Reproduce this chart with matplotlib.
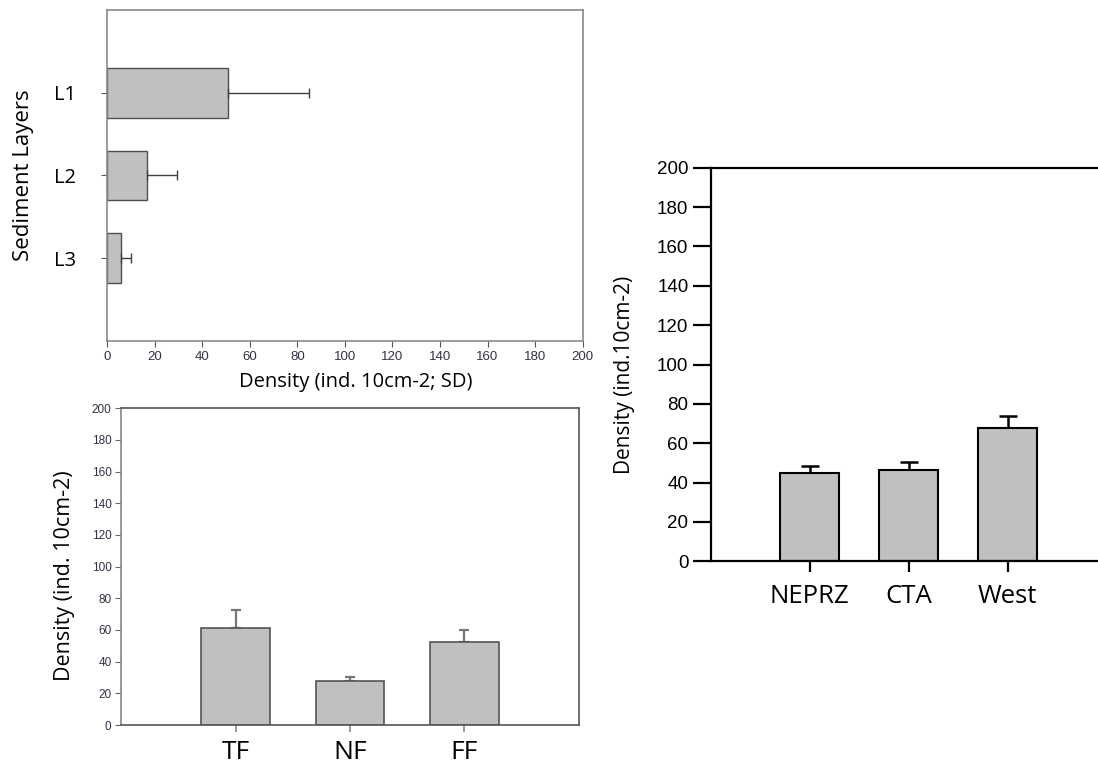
import matplotlib
matplotlib.use("Agg")
import matplotlib.pyplot as plt
import numpy as np

# ---- data ----
layers = ["L1", "L2", "L3"]
layer_density = [51, 17, 6]
layer_sd = [34, 12.5, 4]

zones = ["TF", "NF", "FF"]
zone_density = [61.5, 27.8, 52.7]
zone_sd = [11, 2.5, 7.2]

regions = ["NEPRZ", "CTA", "West"]
region_density = [45, 46.3, 67.5]
region_sd = [3.6, 4.4, 6.1]

ticks_200 = [0, 20, 40, 60, 80, 100, 120, 140, 160, 180, 200]

W, H = 1098, 767
fig = plt.figure(figsize=(W / 100, H / 100), dpi=100)
fig.patch.set_facecolor("white")

BAR = "#c0c0c0"
TXT = "Open Sans"

def frac(l, t, r, b):
    return [l / W, (H - b) / H, (r - l) / W, (b - t) / H]

# ---- panel 1: horizontal bars ----
ax1 = fig.add_axes(frac(107, 10, 582.7, 341))
pos1 = np.arange(1, len(layers) + 1)
ax1.barh(pos1, layer_density, height=0.6, color=BAR, edgecolor="#505050", linewidth=1.0, zorder=2)
ax1.errorbar(layer_density, pos1, xerr=[np.zeros(len(layers)), layer_sd], fmt="none",
             ecolor="#404040", elinewidth=1.0, capsize=3.5, capthick=1.0, zorder=3)
ax1.set_ylim(4, 0)
ax1.set_xlim(0, 200)
ax1.set_yticks(pos1)
ax1.set_yticklabels(layers, fontsize=14.5, family=TXT)
ax1.set_xticks(ticks_200)
ax1.set_xticklabels([str(t) for t in ticks_200], fontsize=9.5, family="Liberation Sans", color="#333344")
for s in ax1.spines.values():
    s.set_color("#8a8a8a")
    s.set_linewidth(1.2)
ax1.tick_params(axis="y", length=4, color="#555555", pad=18.5)
ax1.tick_params(axis="x", length=4, color="#555555", pad=3)
ax1.set_xlabel("Density (ind. 10cm-2; SD)", fontsize=14.5, family=TXT, labelpad=7)
ax1.xaxis.label.set_x(0.523)
ax1.set_ylabel("Sediment Layers", fontsize=16, family=TXT, labelpad=14)

# ---- panel 2: vertical bars ----
ax2 = fig.add_axes(frac(121.3, 408.3, 578.7, 725))
pos2 = np.arange(1, len(zones) + 1)
ax2.bar(pos2, zone_density, width=0.6, color=BAR, edgecolor="#555555", linewidth=1.2, zorder=2)
ax2.errorbar(pos2, zone_density, yerr=[np.zeros(len(zones)), zone_sd], fmt="none",
             ecolor="#777777", elinewidth=1.6, capsize=3.5, capthick=1.6, zorder=1)
ax2.set_xlim(0, 4)
ax2.set_ylim(0, 200)
ax2.set_xticks(pos2)
ax2.set_xticklabels(zones, fontsize=19, family=TXT)
ax2.set_yticks(ticks_200)
ax2.set_yticklabels([str(t) for t in ticks_200], fontsize=8.5, family="Liberation Sans", color="#333344")
for s in ax2.spines.values():
    s.set_color("#555555")
    s.set_linewidth(1.2)
ax2.spines["left"].set_color("#888888")
ax2.tick_params(axis="y", length=4, color="#666666", pad=3)
ax2.tick_params(axis="x", length=5, color="#888888", width=1.2, pad=6)
ax2.set_ylabel("Density (ind. 10cm-2)", fontsize=15.5, family=TXT, labelpad=12)
ax2.yaxis.label.set_y(0.47)

# ---- panel 3: vertical bars ----
ax3 = fig.add_axes(frac(710.7, 167.7, 1098, 561.3))
pos3 = np.arange(1, len(regions) + 1)
ax3.bar(pos3, region_density, width=0.6, color=BAR, edgecolor="black", linewidth=1.5, zorder=2)
ax3.errorbar(pos3, region_density, yerr=[np.zeros(len(regions)), region_sd], fmt="none",
             ecolor="black", elinewidth=1.8, capsize=6.5, capthick=1.8, zorder=1)
ax3.set_xlim(0, 387.3 / 99)
ax3.set_ylim(0, 200)
ax3.set_xticks(pos3)
ax3.set_xticklabels(regions, fontsize=18.5, family=TXT)
ax3.set_yticks(ticks_200)
ax3.set_yticklabels([str(t) for t in ticks_200], fontsize=13.5, family="Liberation Sans")
ax3.spines["right"].set_visible(False)
for k in ("left", "top", "bottom"):
    ax3.spines[k].set_linewidth(1.6)
    ax3.spines[k].set_color("black")
ax3.tick_params(axis="y", length=13, width=1.6, pad=3)
ax3.tick_params(axis="x", length=8, width=1.6, pad=8)
ax3.set_ylabel("Density (ind.10cm-2)", fontsize=15, family=TXT, labelpad=16)
ax3.yaxis.label.set_y(0.473)

fig.savefig("out.png", dpi=100, facecolor="white")
